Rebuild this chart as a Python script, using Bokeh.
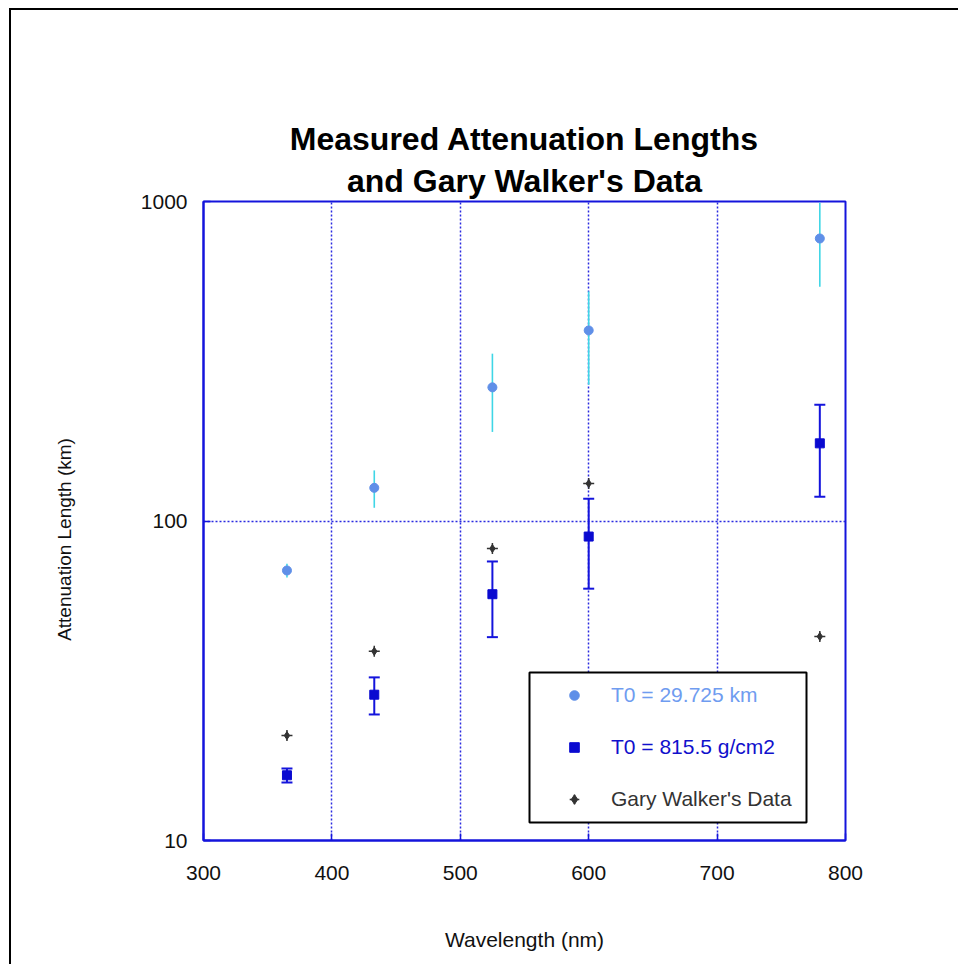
from bokeh.plotting import figure
from bokeh.models import (ColumnDataSource, Range1d, FixedTicker, NumeralTickFormatter,
                          Whisker, TeeHead, Legend, LegendItem, Title, BoxAnnotation)
from bokeh.embed import file_html
from bokeh.resources import INLINE

# ---- data ----
wavelength = [365, 433, 525, 600, 780]
atten_km = [70, 127, 262, 395, 766]
atten_km_err = [3.5, 17, 72, 128, 225]
atten_gcm2 = [16.0, 28.6, 59, 89.4, 175]
atten_gcm2_err = [0.8, 3.8, 15.7, 28, 56]
walker = [21.3, 39.1, 82, 131, 43.5]
x_ticks = [300, 400, 500, 600, 700, 800]
y_ticks = [10, 100, 1000]
labels = ["T0 = 29.725 km", "T0 = 815.5 g/cm2", "Gary Walker's Data"]

FONT = "Liberation Sans"
BLUE = "#1414dc"
NB = "\u00a0"

src1 = ColumnDataSource(dict(x=wavelength, y=atten_km,
                             lo=[v - e for v, e in zip(atten_km, atten_km_err)],
                             hi=[v + e for v, e in zip(atten_km, atten_km_err)]))
src2 = ColumnDataSource(dict(x=wavelength, y=atten_gcm2,
                             lo=[v - e for v, e in zip(atten_gcm2, atten_gcm2_err)],
                             hi=[v + e for v, e in zip(atten_gcm2, atten_gcm2_err)]))
src3 = ColumnDataSource(dict(x=wavelength, y=walker))

p = figure(width=949, height=956, output_backend="svg", toolbar_location=None,
           y_axis_type="log", x_range=Range1d(300, 800), y_range=Range1d(10, 1000),
           min_border_left=192, min_border_right=115, min_border_top=191,
           min_border_bottom=126, title=None,
           background_fill_color="white", border_fill_color="white")
p.styles = {"margin-left": "9px", "margin-top": "8px",
            "border-left": "2px solid black", "border-top": "2px solid black"}

# titles (first added is closest to the plot)
t2 = Title(text="and Gary Walker's Data", align="center", text_font=FONT,
           text_font_size="32px", text_font_style="bold", text_color="black", standoff=5)
t1 = Title(text="Measured Attenuation Lengths", align="center", text_font=FONT,
           text_font_size="32px", text_font_style="bold", text_color="black", standoff=3)
p.add_layout(t2, "above")
p.add_layout(t1, "above")

p.outline_line_color = BLUE
p.outline_line_width = 2
p.outline_line_alpha = 1

for ax in (p.xaxis, p.yaxis):
    ax.axis_line_color = BLUE
    ax.axis_line_width = 2
    ax.major_tick_line_color = BLUE
    ax.major_tick_line_width = 1.5
    ax.major_tick_in = 7
    ax.major_tick_out = 0
    ax.minor_tick_line_color = None
    ax.major_label_text_font = FONT
    ax.major_label_text_font_size = "21px"
    ax.major_label_text_color = "#111111"
    ax.axis_label_text_font = FONT
    ax.axis_label_text_font_style = "normal"
    ax.axis_label_text_color = "#111111"

p.xaxis.axis_label_text_font_size = "21px"
p.yaxis.axis_label_text_font_size = "19px"
p.xaxis.ticker = FixedTicker(ticks=x_ticks)
p.yaxis.ticker = FixedTicker(ticks=y_ticks, minor_ticks=[])
p.yaxis.formatter = NumeralTickFormatter(format="0")
p.xaxis.axis_label = "Wavelength (nm)"
p.yaxis.axis_label = "Attenuation Length (km)" + NB * 7
p.xaxis.major_label_standoff = 25
p.yaxis.major_label_standoff = 16
p.xaxis.axis_label_standoff = 45
p.yaxis.axis_label_standoff = 63

p.xgrid.ticker = FixedTicker(ticks=x_ticks)
p.ygrid.ticker = FixedTicker(ticks=y_ticks)
for g in (p.xgrid, p.ygrid):
    g.grid_line_color = "#2a2ae0"
    g.grid_line_dash = "2 2"
    g.grid_line_width = 1.5

# error bars
p.segment(x0="x", y0="lo", x1="x", y1="hi", source=src1, line_color="#3fd6e6", line_width=1.6)
w2 = Whisker(base="x", lower="lo", upper="hi", source=src2, line_color=BLUE, line_width=2,
             upper_head=TeeHead(size=11, line_color=BLUE, line_width=2),
             lower_head=TeeHead(size=11, line_color=BLUE, line_width=2))
p.add_layout(w2)

r1 = p.scatter("x", "y", source=src1, marker="circle", size=9,
               fill_color="#5f8fe8", line_color="#5f8fe8")
r2 = p.scatter("x", "y", source=src2, marker="square", size=9,
               fill_color="#0a0ad0", line_color="#0a0ad0")
r3a = p.scatter("x", "y", source=src3, marker="diamond", size=8,
                fill_color="#333333", line_color="#333333")
r3b = p.scatter("x", "y", source=src3, marker="cross", size=11,
                line_color="#333333", line_width=1.5)

# legend box
box = BoxAnnotation(left=326, right=603, bottom=18, top=168,
                    left_units="screen", right_units="screen",
                    bottom_units="screen", top_units="screen",
                    fill_color="white", fill_alpha=1.0,
                    line_color="black", line_width=2, line_alpha=1.0)
p.add_layout(box)

colors = ["#6f9cf0", "#1010cc", "#333333"]
rends = [[r1], [r2], [r3a, r3b]]
GH, PITCH, PAD = 24, 52, 13
LX, LY = 339, 29

for i, (l, r, c) in enumerate(zip(labels, rends, colors)):
    lg = Legend(items=[LegendItem(label=l, renderers=r)],
                location=(LX, LY + (2 - i) * PITCH), orientation="vertical",
                glyph_width=64, glyph_height=GH, label_height=GH,
                padding=PAD, label_standoff=5, margin=0,
                label_text_font=FONT, label_text_font_size="21px",
                label_text_color=c,
                background_fill_alpha=0.0, border_line_color=None)
    p.add_layout(lg, "center")

open("out.html", "w").write(file_html(p, INLINE))
